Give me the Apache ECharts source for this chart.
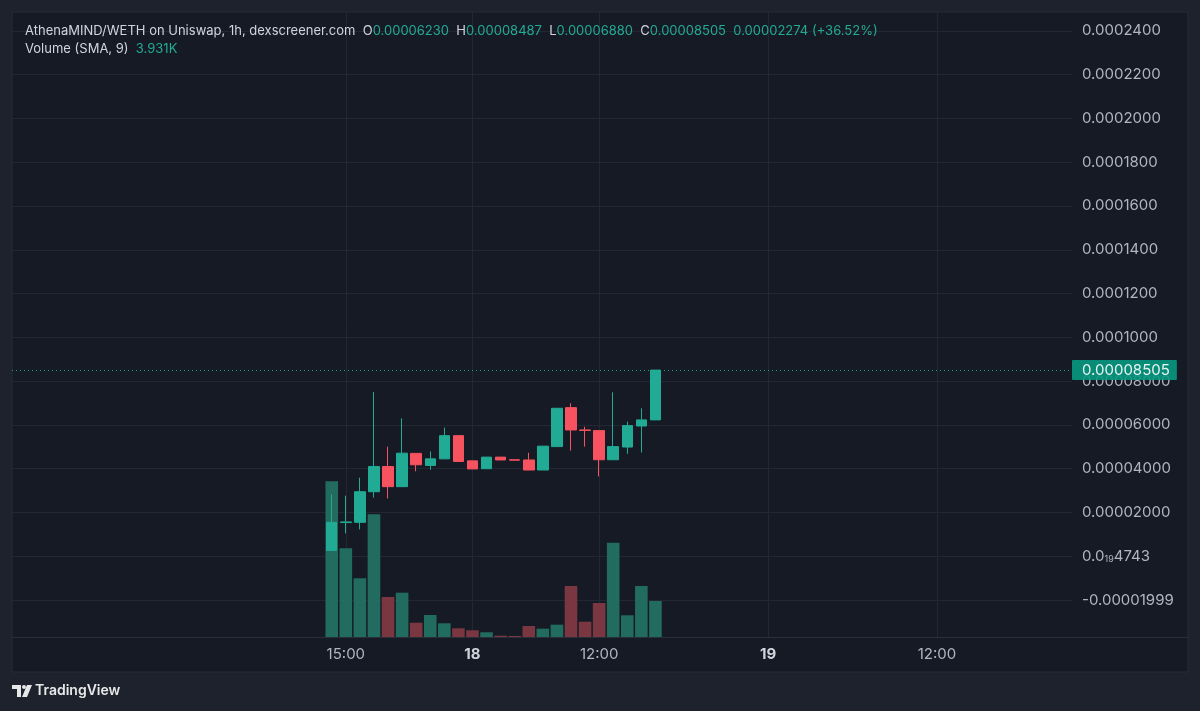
<!DOCTYPE html>
<html><head><meta charset="utf-8">
<script src="https://cdn.jsdelivr.net/npm/echarts@6/dist/echarts.min.js"></script>
<style>html,body{margin:0;padding:0;background:#1e222d;}#c{width:1200px;height:711px;}</style>
</head><body><div id="c"></div>
<script>
// ---------- data ----------
const barTimes = ['14:00','15:00','16:00','17:00','18:00','19:00','20:00','21:00','22:00','23:00',
  '00:00','01:00','02:00','04:00','05:00','06:00','08:00','09:00','10:00','11:00',
  '12:00','13:00','14:00','15:00'];
const opens  = [0.0000027,0.0000154,0.0000155,0.0000295,0.0000410,0.0000318,0.0000470,0.0000415,0.0000445,0.0000551,
  0.0000436,0.0000400,0.0000453,0.0000441,0.0000440,0.0000394,0.0000501,0.0000679,0.0000577,0.0000574,
  0.0000441,0.0000499,0.0000595,0.0000623];
const closes = [0.0000155,0.0000157,0.0000295,0.0000410,0.0000318,0.0000471,0.0000418,0.0000445,0.0000551,0.0000433,
  0.0000399,0.0000453,0.0000440,0.0000439,0.0000394,0.0000503,0.0000676,0.0000577,0.0000575,0.0000441,
  0.0000501,0.0000597,0.0000623,0.00008505];
const lows   = [0.0000027,0.0000105,0.0000123,0.0000268,0.0000264,0.0000318,0.0000388,0.0000395,0.0000445,0.0000433,
  0.0000399,0.0000400,0.0000440,0.0000439,0.0000394,0.0000394,0.0000501,0.0000483,0.0000501,0.0000365,
  0.0000441,0.0000468,0.0000474,0.0000688];
const highs  = [0.0000282,0.0000277,0.0000359,0.0000750,0.0000501,0.0000630,0.0000470,0.0000479,0.0000588,0.0000551,
  0.0000436,0.0000453,0.0000453,0.0000441,0.0000473,0.0000503,0.0000676,0.0000699,0.0000592,0.0000574,
  0.0000749,0.0000615,0.0000676,0.00008487];
const volumes = [16900,9640,6390,13320,4365,4830,1580,2415,1516,975,
  758,541,173,141,1224,931,1365,5556,1690,3715,
  10245,2383,5556,3931];

const timeTickIndex  = [1, 10, 19, 31, 43];
const timeTickLabels = ['15:00', '18', '12:00', '19', '12:00'];

const priceTickValues = [-0.00002, 0, 0.00002, 0.00004, 0.00006, 0.00008, 0.0001, 0.00012, 0.00014,
  0.00016, 0.00018, 0.0002, 0.00022, 0.00024];
const priceTickLabels = ['-0.00001999', '0.0{s|19}4743', '0.00002000', '0.00004000', '0.00006000', '0.00008000',
  '0.0001000', '0.0001200', '0.0001400', '0.0001600', '0.0001800', '0.0002000', '0.0002200', '0.0002400'];

const headerTitle = 'AthenaMIND/WETH on Uniswap, 1h, dexscreener.com';
const headerOHLC = [['O','0.00006230'],['H','0.00008487'],['L','0.00006880'],['C','0.00008505']];
const headerChange = '0.00002274 (+36.52%)';
const volumeLabel = 'Volume (SMA, 9)';
const volumeSMA = '3.931K';
const lastPriceLabel = '0.00008505';

// ---------- style ----------
const UP = '#22ab94', DOWN = '#f7525f';
const VOL_UP = '#226b5f', VOL_DOWN = '#7b3741';
const GRID = '#232733', TXT = '#b2b5be', WHITE = '#d1d4dc';
const FONT = 'Inter, "Noto Sans", sans-serif';
const X_MIN = -22.72, X_MAX = 52.6;
const Y_MIN = -0.000037, Y_MAX = 0.0002486;

const lastIdx = closes.length - 1;
const lastClose = closes[lastIdx];

const candleData = barTimes.map((t, i) => [i, opens[i], closes[i], lows[i], highs[i]]);
const volData = barTimes.map((t, i) => ({
  value: [i, volumes[i]],
  itemStyle: { color: closes[i] >= opens[i] ? VOL_UP : VOL_DOWN }
}));

let header = '{w|' + headerTitle + '}  ';
headerOHLC.forEach(p => { header += '{w|' + p[0] + '}{g|' + p[1] + '}  '; });
header += '{g|' + headerChange + '}\n{w|' + volumeLabel + '}  {g|' + volumeSMA + '}';

function priceLabel(v) {
  for (let i = 0; i < priceTickValues.length; i++) {
    if (Math.abs(priceTickValues[i] - v) < 1e-12) return priceTickLabels[i];
  }
  return '';
}
function timeLabel(v) {
  const k = timeTickIndex.indexOf(Math.round(v));
  if (k < 0) return '';
  const s = timeTickLabels[k];
  return s.indexOf(':') >= 0 ? s : '{b|' + s + '}';
}

const chart = echarts.init(document.getElementById('c'), null, { width: 1200, height: 711 });
chart.setOption({
  animation: false,
  backgroundColor: '#1e222d',
  textStyle: { fontFamily: FONT },
  title: {
    left: 20, top: 17,
    text: header,
    textStyle: {
      fontFamily: FONT, fontSize: 13, lineHeight: 18, fontWeight: 'normal',
      rich: {
        w: { color: WHITE, fontSize: 13, fontFamily: FONT, lineHeight: 18 },
        g: { color: UP, fontSize: 13, fontFamily: FONT, lineHeight: 18 }
      }
    }
  },
  graphic: [
    { type: 'rect', z: -100, shape: { x: 12, y: 12, width: 1176, height: 660 }, style: { fill: '#161a25', stroke: '#262a35', lineWidth: 1 } },
    { type: 'line', z: 50, shape: { x1: 12, y1: 637.5, x2: 1188, y2: 637.5 }, style: { stroke: '#2a2e39', lineWidth: 1 } },
    { type: 'polygon', z: 50, shape: { points: [[12,685],[21,685],[21,697],[17,697],[17,689],[12,689]] }, style: { fill: '#e8e8e8' } },
    { type: 'circle', z: 50, shape: { cx: 24, cy: 687, r: 2 }, style: { fill: '#e8e8e8' } },
    { type: 'polygon', z: 50, shape: { points: [[27,685],[32,685],[27,697],[22,697]] }, style: { fill: '#e8e8e8' } },
    { type: 'text', z: 50, left: 35, top: 684, style: { text: 'TradingView', fill: '#e8e8e8', font: '600 14px ' + FONT } }
  ],
  grid: [
    { left: 12, right: 128, top: 12, bottom: 73.7 },
    { left: 12, right: 128, top: 481.2, bottom: 73.7 }
  ],
  xAxis: [
    {
      type: 'value', gridIndex: 0, min: X_MIN, max: X_MAX,
      axisLine: { show: false }, axisLabel: { show: false },
      axisTick: { show: false, customValues: timeTickIndex },
      splitLine: { show: true, lineStyle: { color: GRID, width: 1 } }
    },
    {
      type: 'value', gridIndex: 1, min: X_MIN, max: X_MAX, z: 60,
      axisLine: { show: false },
      axisTick: { show: false, customValues: timeTickIndex },
      splitLine: { show: false },
      axisLabel: {
        customValues: timeTickIndex, formatter: timeLabel, color: TXT, fontSize: 15, margin: 10,
        fontFamily: FONT,
        rich: { b: { fontWeight: 'bold', color: WHITE, fontSize: 15, fontFamily: FONT } }
      }
    }
  ],
  yAxis: [
    {
      type: 'value', gridIndex: 0, position: 'right', min: Y_MIN, max: Y_MAX, scale: true,
      axisLine: { show: false },
      axisTick: { show: false, customValues: priceTickValues },
      splitLine: { show: true, lineStyle: { color: GRID, width: 1 } },
      axisLabel: {
        customValues: priceTickValues, formatter: priceLabel, color: TXT, fontSize: 15, margin: 10,
        fontFamily: FONT, align: 'left',
        rich: { s: { fontSize: 9, color: TXT, padding: [7, 0, 0, 0], fontFamily: FONT } }
      }
    },
    {
      type: 'value', gridIndex: 1, min: 0, max: 'dataMax', show: false, splitLine: { show: false }
    }
  ],
  series: [
    {
      type: 'bar', xAxisIndex: 1, yAxisIndex: 1, data: volData, barWidth: 12.6, z: 1
    },
    {
      type: 'candlestick', xAxisIndex: 0, yAxisIndex: 0, z: 3,
      data: candleData, encode: { x: 0, y: [1, 2, 3, 4] },
      barWidth: 11,
      itemStyle: { color: UP, color0: DOWN, borderColor: UP, borderColor0: DOWN, borderWidth: 1 }
    },
    {
      type: 'line', xAxisIndex: 0, yAxisIndex: 0, z: 4, symbol: 'none', silent: true,
      data: [[lastIdx, lastClose]],
      lineStyle: { opacity: 0 },
      markLine: {
        silent: true, symbol: 'none', precision: 12,
        lineStyle: { color: UP, type: [1, 3], width: 1, opacity: 0.9 },
        data: [{ yAxis: lastClose }],
        label: {
          show: true, position: 'end', distance: 0, formatter: lastPriceLabel,
          backgroundColor: '#089981', color: '#ffffff', fontSize: 15, fontFamily: FONT,
          padding: [3, 7, 2, 10], borderRadius: 1
        }
      }
    }
  ]
});
</script></body></html>
